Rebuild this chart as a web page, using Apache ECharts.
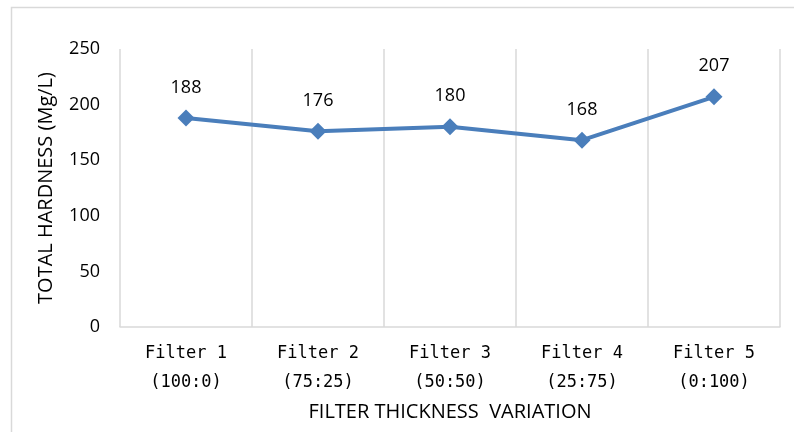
<!DOCTYPE html>
<html>
<head>
<meta charset="utf-8">
<script src="https://cdn.jsdelivr.net/npm/echarts@6/dist/echarts.min.js"></script>
<style>
html,body{margin:0;padding:0;background:#fff;}
#c{width:794px;height:432px;}
</style>
</head>
<body>
<div id="c"></div>
<script>
const categories = ['Filter 1\n(100:0)', 'Filter 2\n(75:25)', 'Filter 3\n(50:50)', 'Filter 4\n(25:75)', 'Filter 5\n(0:100)'];
const hardness = [188, 176, 180, 168, 207];
const yTicks = { min: 0, max: 250, interval: 50 };
const xTitle = 'FILTER THICKNESS  VARIATION';
const yTitle = 'TOTAL HARDNESS (Mg/L)';

const chart = echarts.init(document.getElementById('c'), null, { renderer: 'canvas' });
chart.setOption({
  animation: false,
  backgroundColor: '#fff',
  graphic: [{
    type: 'rect', left: 9, top: 5, shape: { width: 800, height: 440 },
    style: { fill: 'none', stroke: '#d9d9d9', lineWidth: 1.5 }, silent: true, z: -1
  }],
  grid: { left: 120, right: 14, top: 49, bottom: 105 },
  xAxis: {
    type: 'category',
    data: categories,
    boundaryGap: true,
    name: xTitle,
    nameLocation: 'middle',
    nameGap: 73,
    nameTextStyle: { fontFamily: 'Open Sans', fontSize: 20, color: '#000' },
    axisLine: { show: true, lineStyle: { color: '#d9d9d9', width: 1.5 } },
    axisTick: { show: false },
    splitLine: { show: true, lineStyle: { color: '#d9d9d9', width: 1.5 } },
    axisLabel: {
      fontFamily: 'DejaVu Sans Mono', fontSize: 17, color: '#000',
      lineHeight: 29, margin: 12, interval: 0
    }
  },
  yAxis: {
    type: 'value',
    min: yTicks.min, max: yTicks.max, interval: yTicks.interval,
    name: yTitle,
    nameLocation: 'middle',
    nameGap: 64,
    nameRotate: 90,
    nameTextStyle: { fontFamily: 'Open Sans', fontSize: 20, color: '#000' },
    axisLine: { show: false },
    axisTick: { show: false },
    splitLine: { show: false },
    axisLabel: { fontFamily: 'Open Sans', fontSize: 18, color: '#000', margin: 20 }
  },
  series: [{
    type: 'line',
    data: hardness,
    symbol: 'diamond',
    symbolSize: 17,
    lineStyle: { color: '#4a7ebb', width: 4 },
    itemStyle: { color: '#4a7ebb' },
    label: {
      show: true, position: 'top', distance: 13,
      fontFamily: 'Open Sans', fontSize: 18, color: '#000'
    }
  }]
});
</script>
</body>
</html>
